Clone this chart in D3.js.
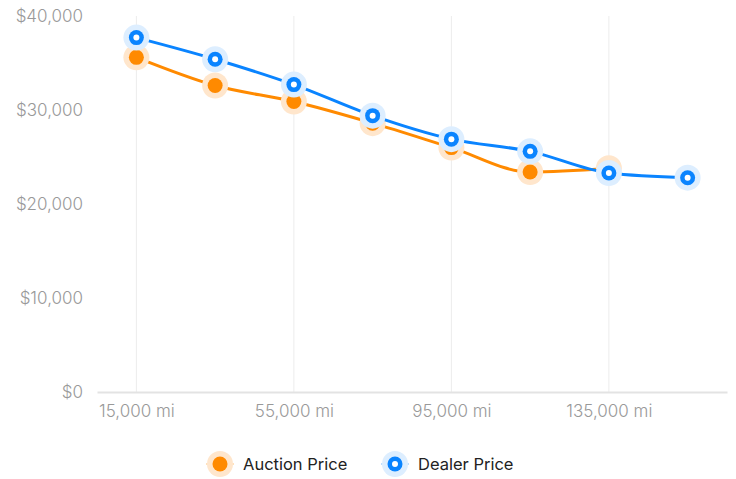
<!DOCTYPE html>
<html>
<head>
<meta charset="utf-8">
<script src="https://cdn.jsdelivr.net/npm/d3@7"></script>
<style>
	body { margin: 0; background: #fff; }
	text { font-family: Inter, "Noto Sans", sans-serif; }
</style>
</head>
<body>
<div id="chart"></div>
<script>
var mileage = [15000, 35000, 55000, 75000, 95000, 115000, 135000, 155000]
var xTicks = [15000, 55000, 95000, 135000]
var yTicks = [0, 10000, 20000, 30000, 40000]
var auctionPrice = [35600, 32600, 30900, 28600, 26000, 23400, 23800, null]
var dealerPrice = [37700, 35400, 32700, 29400, 26900, 25600, 23300, 22800]

var w = 736
var h = 479
var m = { left: 97, right: 9, top: 16, bottom: 87 }

var orange = "#ff8a00"
var blue = "#0a84ff"

var svg = d3.select("#chart").append("svg")
	.attr("width", w)
	.attr("height", h)

var x = d3.scalePoint()
	.domain(mileage)
	.range([m.left, w - m.right])
	.padding(0.5)

var y = d3.scaleLinear()
	.domain([0, 40000])
	.range([h - m.bottom, m.top])

// vertical grid lines
svg.append("g")
	.selectAll("line")
	.data(xTicks)
	.enter()
	.append("line")
	.attr("x1", d => x(d))
	.attr("x2", d => x(d))
	.attr("y1", y(40000))
	.attr("y2", y(0))
	.attr("stroke", "#ececec")
	.attr("stroke-width", 1)

// x axis
var xAxis = d3.axisBottom(x)
	.tickValues(xTicks)
	.tickSize(0)
	.tickPadding(13)
	.tickFormat(d => d3.format(",")(d) + " mi")

var gx = svg.append("g")
	.attr("transform", "translate(0," + y(0) + ")")
	.call(xAxis)
gx.select(".domain").attr("stroke", "#e3e3e3").attr("stroke-width", 2)
gx.selectAll("text").attr("fill", "#999").style("font-size", "17px").style("font-weight", 300)

// y axis
var yAxis = d3.axisLeft(y)
	.tickValues(yTicks)
	.tickSize(0)
	.tickPadding(14)
	.tickFormat(d => "$" + d3.format(",")(d))

var gy = svg.append("g")
	.attr("transform", "translate(" + m.left + ",0)")
	.call(yAxis)
gy.select(".domain").remove()
gy.selectAll("text").attr("fill", "#999").style("font-size", "17px").style("font-weight", 300)

var series = [
	{ name: "Auction Price", values: auctionPrice, color: orange, halo: "#ffe6cc", hollow: false },
	{ name: "Dealer Price", values: dealerPrice, color: blue, halo: "#ddeeff", hollow: true }
]

var line = d3.line()
	.defined(d => d.v != null)
	.x(d => x(d.m))
	.y(d => y(d.v))
	.curve(d3.curveMonotoneX)

function drawMarker(g, s) {
	g.append("circle").attr("r", 13).attr("fill", s.halo)
	g.append("circle").attr("r", 7.5).attr("fill", s.color)
	if (s.hollow) g.append("circle").attr("r", 3).attr("fill", "#fff")
}

series.forEach(s => {
	var pts = mileage.map((mi, i) => ({ m: mi, v: s.values[i] }))
	var g = svg.append("g")

	g.append("path")
		.datum(pts)
		.attr("d", line)
		.attr("fill", "none")
		.attr("stroke", s.color)
		.attr("stroke-width", 3)

	g.selectAll(".pt")
		.data(pts.filter(d => d.v != null))
		.enter()
		.append("g")
		.attr("class", "pt")
		.attr("transform", d => "translate(" + x(d.m) + "," + y(d.v) + ")")
		.each(function () { drawMarker(d3.select(this), s) })
})

// legend
var legend = svg.append("g")
	.attr("transform", "translate(0,464)")

var lx = [220, 395]
series.forEach((s, i) => {
	var item = legend.append("g")
		.attr("transform", "translate(" + lx[i] + ",0)")
	item.append("line")
		.attr("x1", -14).attr("x2", 14)
		.attr("stroke", s.color)
		.attr("stroke-opacity", 0.35)
		.attr("stroke-width", 1.5)
	drawMarker(item, s)
	item.append("text")
		.attr("x", 23)
		.attr("dy", "0.35em")
		.attr("fill", "#222")
		.style("font-size", "16.5px")
		.text(s.name)
})
</script>
</body>
</html>
